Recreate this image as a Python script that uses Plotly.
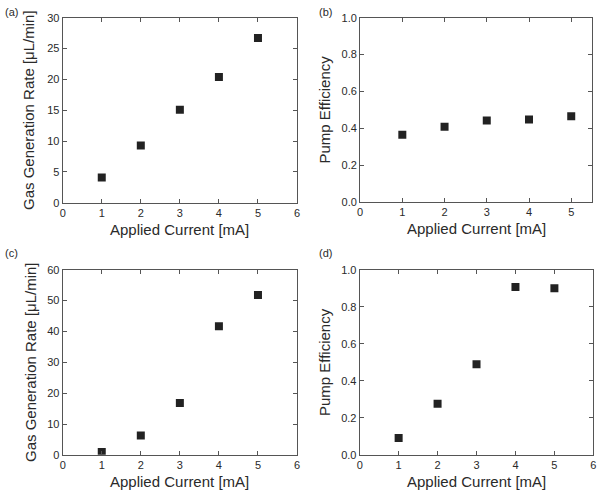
import plotly.graph_objects as go

current = [1, 2, 3, 4, 5]
gas_rate_a = [4.1, 9.3, 15.1, 20.4, 26.7]
efficiency_b = [0.364, 0.408, 0.442, 0.447, 0.465]
gas_rate_c = [0.95, 6.3, 16.8, 41.7, 51.8]
efficiency_d = [0.091, 0.276, 0.490, 0.907, 0.900]

x_title = "Applied Current [mA]"
gas_title = "Gas Generation Rate [\u03bcL/min]"
eff_title = "Pump Efficiency"
panel_labels = ["(a)", "(b)", "(c)", "(d)"]

W, H = 600, 496
def px_x(v):
    return v / W
def px_y(v):
    return 1 - v / H

# plot areas in pixels: (left, right, top, bottom)
boxes = [
    (60.3, 297.0, 12.0, 201.7),
    (360.7, 595.3, 12.0, 200.7),
    (60.3, 297.0, 270.3, 460.0),
    (360.3, 596.3, 270.3, 460.0),
]
xranges = [[0, 6], [0, 5.5], [0, 6], [0, 6]]
yranges = [[0, 30], [0, 1], [0, 60], [0, 1]]
ydticks = [5, 0.2, 10, 0.2]
yfmts = ["d", ".1f", "d", ".1f"]
series = [gas_rate_a, efficiency_b, gas_rate_c, efficiency_d]
ytitles = [gas_title, eff_title, gas_title, eff_title]
ytitle_x = [26, 325, 28, 325]
label_pos = [(0, 6), (317, 6), (0, 253), (317, 253)]

font = "Liberation Sans, Arial, sans-serif"
txt_col = "#2a2a2a"
line_col = "#555555"

fig = go.Figure()
layout = dict(
    width=W, height=H,
    margin=dict(l=0, r=0, t=0, b=0),
    paper_bgcolor="white", plot_bgcolor="white",
    showlegend=False,
    font=dict(family=font, color=txt_col),
)
annotations = []
for i in range(4):
    l, r, t, b = boxes[i]
    sfx = "" if i == 0 else str(i + 1)
    fig.add_trace(go.Scatter(
        x=current, y=series[i], mode="markers",
        marker=dict(symbol="square", size=8, color="#222222"),
        xaxis="x" + sfx, yaxis="y" + sfx,
    ))
    common = dict(
        showline=True, linecolor=line_col, linewidth=1, mirror="ticks",
        ticks="inside", ticklen=4, tickcolor=line_col, tickwidth=1,
        showgrid=False, zeroline=False,
        tickfont=dict(size=11, family=font, color=txt_col),
    )
    layout["xaxis" + sfx] = dict(
        domain=[px_x(l), px_x(r)], range=xranges[i], dtick=1, tick0=0,
        anchor="y" + sfx, **common,
    )
    layout["yaxis" + sfx] = dict(
        domain=[px_y(b), px_y(t)], range=yranges[i], dtick=ydticks[i], tick0=0,
        tickformat=yfmts[i], anchor="x" + sfx, **common,
    )
    # x axis title
    annotations.append(dict(
        text=x_title, xref="paper", yref="paper",
        x=px_x((l + r) / 2), y=px_y(b + 27), xanchor="center", yanchor="middle",
        showarrow=False, font=dict(size=15, family=font, color=txt_col),
    ))
    # y axis title
    annotations.append(dict(
        text=ytitles[i], xref="paper", yref="paper",
        x=px_x(ytitle_x[i]), y=px_y((t + b) / 2), xanchor="center", yanchor="middle",
        textangle=-90, showarrow=False, font=dict(size=15, family=font, color=txt_col),
    ))
    lx, ly = label_pos[i]
    annotations.append(dict(
        text=panel_labels[i], xref="paper", yref="paper",
        x=px_x(lx), y=px_y(ly), xanchor="left", yanchor="middle",
        showarrow=False, font=dict(size=11, family=font, color=txt_col),
    ))

layout["annotations"] = annotations
fig.update_layout(**layout)
fig.write_html(
    "out.html",
    config={"displayModeBar": False},
    post_script="document.body.style.margin='0px';document.body.style.overflow='hidden';",
)
